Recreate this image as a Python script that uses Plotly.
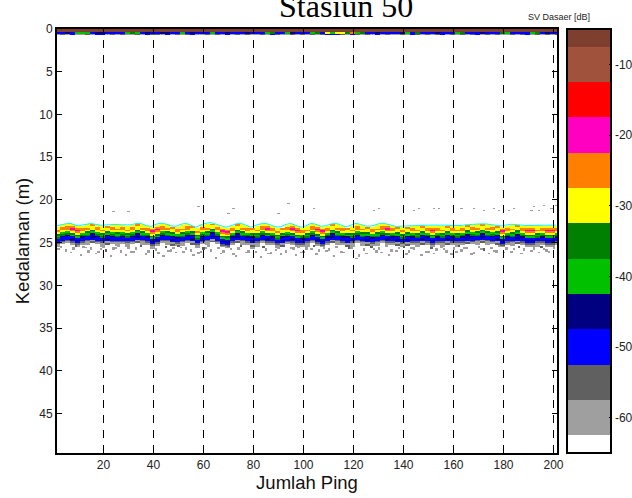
import numpy as np
import plotly.graph_objects as go

# ---- data ----
level_db = [-65, -60, -55, -50, -45, -40, -35, -30, -25, -20, -15, -10, -5]
level_colors = ["#ffffff", "#9f9f9f", "#606060", "#0000ff", "#000080", "#00c000", "#008000",
                "#ffff00", "#ff8000", "#ff00c0", "#ff0000", "#a0523d", "#7f3f2f"]
x_ticks = [20, 40, 60, 80, 100, 120, 140, 160, 180, 200]
y_ticks = [0, 5, 10, 15, 20, 25, 30, 35, 40, 45]
cbar_ticks = [-10, -20, -30, -40, -50, -60]
cbar_labels = ["-10", "-20", "-30", "-40", "-50", "-60"]

# top of the bottom echo (m), one value per two pings
echo_top = [23.18, 23.04, 22.92, 22.88, 23.13, 23.09, 22.95, 22.89, 23.00, 23.09,
            23.06, 23.02, 23.00, 23.05, 23.09, 23.05, 22.90, 22.88, 23.15, 23.23,
            22.98, 22.86, 22.95, 23.17, 23.21, 22.98, 22.86, 23.09, 23.33, 23.04,
            22.86, 22.79, 22.98, 23.19, 23.33, 23.15, 22.93, 22.86, 23.09, 23.33,
            23.09, 22.92, 22.88, 23.09, 23.29, 23.28, 22.98, 22.90, 23.09, 23.33,
            23.15, 22.88, 22.98, 23.23, 23.15, 22.95, 22.86, 23.08, 23.28, 23.09,
            22.86, 23.01, 23.21, 23.19, 22.98, 22.86, 22.93, 23.09, 23.24, 23.21,
            23.17, 23.13, 23.13, 23.12, 23.09, 23.08, 23.06, 23.06, 23.09, 23.12,
            23.13, 23.13, 23.04, 22.98, 22.95, 22.94, 22.94, 23.04, 23.15, 23.18,
            23.07, 22.98, 23.02, 23.09, 23.13, 23.12, 23.09, 23.09, 23.09, 23.09, 23.09]
# layer sequences below the echo top (dB), one per cell of 0.2 m
profile_a = [-30, -25, -25, -30, -40, -35, -45, -50, -50, -55, -60]
profile_b = [-30, -25, -20, -25, -30, -35, -40, -50, -45, -50, -55, -60]
profile_c = [-30, -30, -25, -30, -35, -40, -35, -50, -50, -55, -60, -60]
profile_d = [-25, -30, -30, -35, -40, -45, -50, -45, -50, -60, -55]
profile_order = ("CAABBACDAC" "DACACADCAB" "BACDACADCA" "CDABBADCAD" "CABACDABBA"
                 "CABBADCADC" "ACDACABADC" "DACDABACDA" "CADACDCADB" "ACDABBCABBA")

# surface echo: two rows of cell codes, one code per two pings
surface_upper = ("bbnbgggbnnbbbbgdgbnb" "bnnbbgbnbbbgbbnbbbnb" "bbgdbbgnbbbgdbygyydo"
                 "gdbbnbbbbngbdbbbnbbb" "gdbbbnbbbdgbbbbgdbnbb")
surface_lower = (".:.b..:.bb.:.:..:.b:" ":.b.:.:b..:.:.b.:.:." ".:.b:..:.:.:.:bbb:.b"
                 ":.:.b.:..:.b:.:.:b.:" ".:.:b.:.:..:.:b.:.:.:")
surface_codes = {"b": -50, "n": -45, "g": -40, "d": -35, "y": -30, "o": -25, ":": -55, ".": -60}

# isolated weak returns above the echo
speck_up_ping = [12, 24, 30, 58, 70, 72, 90, 94, 104, 128, 130, 144, 146, 152, 154, 163, 168,
                 172, 176, 178, 182, 184, 191, 192, 194, 196, 199, 201]
speck_up_depth = [21.4, 21.3, 21.3, 20.8, 21.6, 21.0, 21.6, 20.4, 21.0, 21.2, 21.0, 21.2, 21.0,
                  21.0, 21.0, 21.0, 21.0, 21.2, 21.0, 21.2, 21.2, 21.0, 21.2, 20.8, 21.2, 20.6,
                  21.0, 20.6]
# isolated weak returns below the echo
speck_low_ping = [3, 5, 8, 9, 12, 14, 15, 18, 20, 21, 24, 26, 27, 30, 31, 33, 35, 38, 39, 41, 42, 45,
                  47, 48, 50, 52, 53, 55, 57, 58, 60, 62, 63, 66, 68, 69, 72, 74, 75, 78, 80, 81,
                  84, 85, 87, 90, 92, 93, 96, 98, 100, 101, 104, 106, 108, 110, 113, 115, 118, 120,
                  122, 124, 127, 129, 130, 133, 135, 138, 140, 142, 144, 146, 149, 151, 153, 155,
                  157, 160, 162, 163, 165, 168, 170, 172, 175, 177, 178, 181, 183, 186, 188, 190,
                  192, 195, 197, 199, 200]
speck_low_depth = [25.4, 25.8, 25.6, 25.2, 25.4, 25.9, 25.6, 26.0, 25.4, 25.8, 25.6, 25.2, 25.9, 25.5,
                   26.0, 25.6, 25.3, 25.9, 25.5, 25.7, 26.1, 25.4, 25.8, 25.5, 25.3, 26.0, 25.6, 25.8,
                   25.4, 26.1, 25.6, 25.3, 25.8, 25.5, 25.9, 25.4, 26.2, 25.6, 25.3, 25.9, 25.5, 26.0,
                   25.4, 25.7, 26.1, 25.5, 25.3, 25.9, 25.6, 25.4, 26.0, 25.6, 25.3, 25.8, 25.5, 25.7,
                   25.4, 26.0, 25.5, 25.3, 26.4, 25.7, 25.4, 25.9, 25.6, 25.3, 25.8, 25.5, 25.4, 25.9,
                   25.6, 25.3, 26.0, 25.5, 25.7, 25.4, 25.9, 25.6, 25.3, 25.8, 25.5, 26.1, 25.4, 25.7,
                   25.5, 25.9, 25.3, 25.6, 26.0, 25.4, 25.7, 25.3, 25.6, 25.4, 25.8, 25.3, 25.5]
speck_low_db = [-60, -60, -60, -55, -60, -60, -60, -60, -60, -55, -60, -60, -60, -60, -60, -60, -55,
                -60, -60, -60, -60, -55, -60, -60, -55, -60, -60, -60, -60, -60, -55, -60, -60, -60,
                -60, -60, -60, -60, -55, -60, -60, -60, -55, -60, -60, -60, -55, -60, -60, -60, -60,
                -60, -55, -60, -60, -60, -60, -60, -55, -60, -60, -60, -55, -60, -60, -60, -60, -60,
                -55, -60, -60, -60, -60, -55, -60, -60, -60, -60, -55, -60, -60, -60, -60, -55, -60,
                -60, -60, -60, -60, -55, -60, -60, -60, -55, -60, -60, -60]
# second set of weak returns, the lighter ones further below the echo
speck_far_ping = [2, 7, 11, 13, 17, 19, 23, 25, 29, 32, 37, 40, 44, 46, 49, 51, 56, 59, 61, 65, 67, 71,
                  73, 77, 79, 83, 86, 89, 91, 95, 97, 99, 103, 105, 109, 112, 116, 119, 121, 125, 128,
                  131, 134, 137, 141, 143, 147, 150, 152, 156, 159, 161, 164, 167, 171, 174, 176, 180,
                  184, 187, 191, 194, 196, 198]
speck_far_depth = [25.7, 26.1, 26.4, 25.5, 26.2, 25.7, 26.5, 25.6, 26.4, 26.0, 26.3, 25.6, 26.5, 25.9,
                   26.1, 25.5, 26.4, 26.0, 25.6, 26.7, 26.2, 25.7, 26.5, 26.1, 25.6, 26.6, 26.2, 25.8,
                   26.3, 25.6, 26.4, 26.1, 25.7, 26.3, 25.9, 26.5, 26.1, 25.6, 26.8, 26.2, 25.7, 26.1,
                   26.4, 25.9, 26.3, 25.6, 26.4, 26.0, 26.2, 25.7, 26.3, 26.0, 25.6, 26.3, 25.7, 26.2,
                   25.9, 26.1, 25.7, 26.2, 25.9, 26.1, 25.7, 26.0]

# ---- build the cell matrix from the lists above ----
ROW_M = 0.1
pings = np.arange(1, 202)
depths = np.arange(0, 49.61, ROW_M)
z = np.full((len(depths), len(pings)), np.nan)
profiles = {"A": profile_a, "B": profile_b, "C": profile_c, "D": profile_d}


def row_of(depth):
    return int(round(depth / ROW_M))


for i in range(len(pings)):
    col = min(i // 2, len(echo_top) - 1)
    z[0:4, i] = level_db[-1]
    z[4:6, i] = surface_codes.get(surface_upper[col])
    z[6:8, i] = surface_codes.get(surface_lower[col])
    start = row_of(echo_top[col])
    for k, db in enumerate(profiles[profile_order[col]]):
        z[start + 2 * k:start + 2 * k + 2, i] = db
for p, d in zip(speck_up_ping, speck_up_depth):
    z[row_of(d), p - 1] = level_db[1]
for p, d, db in zip(speck_low_ping, speck_low_depth, speck_low_db):
    z[row_of(d):row_of(d) + 3, p - 1] = db
for p, d in zip(speck_far_ping, speck_far_depth):
    z[row_of(d):row_of(d) + 2, p - 1] = level_db[1]

# stepwise colour scale: each level owns the 5 dB around it
zmin, zmax = level_db[0], level_db[-1]
edges = [zmin] + [v + 2.5 for v in level_db[:-1]] + [zmax]
scale = []
for c, a, b in zip(level_colors, edges[:-1], edges[1:]):
    scale.append([(a - zmin) / (zmax - zmin), c])
    scale.append([(b - zmin) / (zmax - zmin), c])

fig = go.Figure()
fig.add_trace(go.Heatmap(
    x=pings, y=depths, z=z, zmin=zmin, zmax=zmax, colorscale=scale, hoverongaps=False,
    colorbar=dict(
        x=1.02, xanchor="left", xpad=0, y=0.5, yanchor="middle", ypad=0, len=1, lenmode="fraction",
        thickness=44, thicknessmode="pixels", outlinecolor="black", outlinewidth=2,
        tickmode="array", tickvals=cbar_ticks, ticktext=cbar_labels, ticks="inside", ticklen=3,
        tickcolor="black", tickfont=dict(family="Liberation Sans", size=12, color="#222222"),
    ),
))
fig.add_trace(go.Scatter(
    x=pings[::2], y=[t - 0.14 for t in echo_top], mode="lines",
    line=dict(color="#00ffff", width=1), hoverinfo="skip", showlegend=False,
))
for t in x_ticks:
    fig.add_shape(type="line", x0=t, x1=t, y0=0, y1=1, xref="x", yref="paper",
                  line=dict(color="black", width=1, dash="8px,7px"))

axis_font = dict(family="Liberation Sans", size=12, color="#222222")
title_font = dict(family="Liberation Sans", size=18.5, color="#111111")
fig.update_xaxes(range=[1.4, 201.4], tickvals=x_ticks, ticks="inside", ticklen=5, tickcolor="black",
                 showline=True, linecolor="black", linewidth=2, mirror="ticks", showgrid=False,
                 zeroline=False, tickfont=axis_font, title=dict(text="Jumlah Ping", font=title_font, standoff=5))
fig.update_yaxes(range=[49.6, 0], tickvals=y_ticks, ticks="inside", ticklen=5, tickcolor="black",
                 showline=True, linecolor="black", linewidth=2, mirror="ticks", showgrid=False,
                 zeroline=False, tickfont=axis_font, title=dict(text="Kedalaman (m)", font=title_font, standoff=5))
fig.add_annotation(text="Stasiun 50", xref="paper", yref="paper", x=0.577, y=1.008, yanchor="bottom",
                   showarrow=False, font=dict(family="Liberation Serif", size=32, color="black"))
fig.add_annotation(text="SV Dasaer [dB]", xref="paper", yref="paper", x=1.07, y=1.028, yanchor="middle",
                   showarrow=False, font=dict(family="Liberation Sans", size=9, color="#222222"))
fig.update_layout(width=632, height=498, margin=dict(l=57, r=75, t=29, b=45, autoexpand=False),
                  paper_bgcolor="white", plot_bgcolor="white", showlegend=False)
fig.write_html("out.html", config={"displayModeBar": False},
               post_script="document.body.style.margin='0';")
